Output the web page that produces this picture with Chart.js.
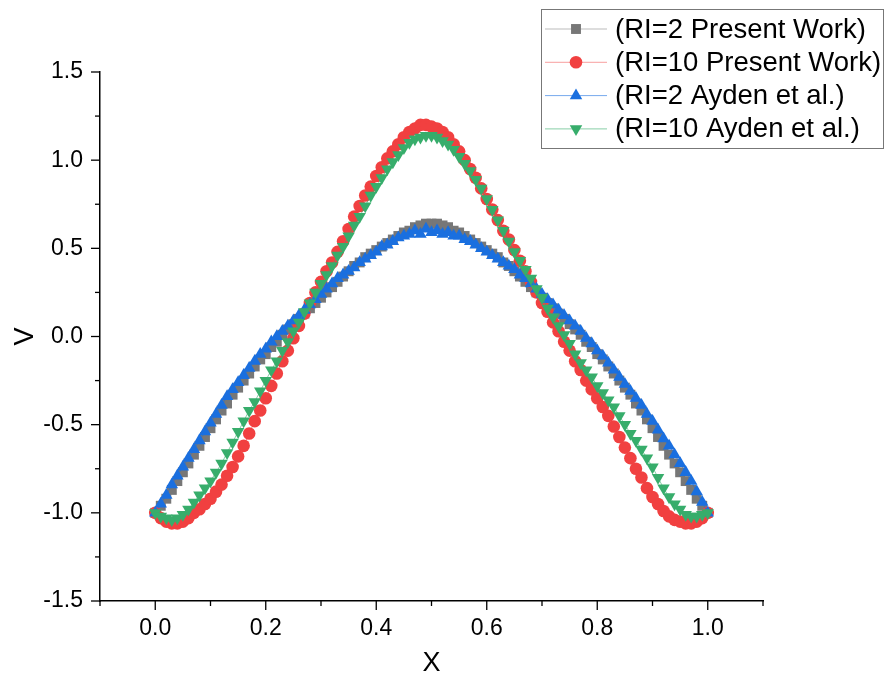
<!DOCTYPE html>
<html>
<head>
<meta charset="utf-8">
<title>V vs X</title>
<script src="https://cdn.jsdelivr.net/npm/chart.js@4.4.1/dist/chart.umd.min.js"></script>
<style>
  html, body { margin: 0; padding: 0; background: #fff; }
  #wrap { width: 891px; height: 682px; }
</style>
</head>
<body>
<div id="wrap"><canvas id="vChart" width="891" height="682"></canvas></div>
<script>
// x positions of the points (same for every series)
const xValues = [
  0.00, 0.01, 0.02, 0.03, 0.04, 0.05, 0.06, 0.07, 0.08, 0.09,
  0.10, 0.11, 0.12, 0.13, 0.14, 0.15, 0.16, 0.17, 0.18, 0.19,
  0.20, 0.21, 0.22, 0.23, 0.24, 0.25, 0.26, 0.27, 0.28, 0.29,
  0.30, 0.31, 0.32, 0.33, 0.34, 0.35, 0.36, 0.37, 0.38, 0.39,
  0.40, 0.41, 0.42, 0.43, 0.44, 0.45, 0.46, 0.47, 0.48, 0.49,
  0.50, 0.51, 0.52, 0.53, 0.54, 0.55, 0.56, 0.57, 0.58, 0.59,
  0.60, 0.61, 0.62, 0.63, 0.64, 0.65, 0.66, 0.67, 0.68, 0.69,
  0.70, 0.71, 0.72, 0.73, 0.74, 0.75, 0.76, 0.77, 0.78, 0.79,
  0.80, 0.81, 0.82, 0.83, 0.84, 0.85, 0.86, 0.87, 0.88, 0.89,
  0.90, 0.91, 0.92, 0.93, 0.94, 0.95, 0.96, 0.97, 0.98, 0.99,
  1.00
];

const ri2Present = [
  -1.00, -0.96, -0.92, -0.87, -0.82, -0.77, -0.72, -0.67, -0.62, -0.57,
  -0.52, -0.47, -0.42, -0.38, -0.33, -0.29, -0.25, -0.21, -0.17, -0.13,
  -0.10, -0.06, -0.03, 0.01, 0.04, 0.07, 0.10, 0.13, 0.16, 0.19,
  0.22, 0.25, 0.28, 0.31, 0.34, 0.37, 0.40, 0.42, 0.45, 0.47,
  0.49, 0.51, 0.53, 0.55, 0.57, 0.59, 0.60, 0.62, 0.63, 0.64,
  0.64, 0.64, 0.63, 0.62, 0.60, 0.59, 0.57, 0.55, 0.53, 0.51,
  0.49, 0.47, 0.45, 0.42, 0.40, 0.37, 0.34, 0.31, 0.28, 0.25,
  0.22, 0.19, 0.16, 0.13, 0.10, 0.07, 0.04, 0.01, -0.03, -0.06,
  -0.10, -0.13, -0.17, -0.21, -0.25, -0.29, -0.33, -0.38, -0.42, -0.47,
  -0.52, -0.57, -0.62, -0.67, -0.72, -0.77, -0.82, -0.87, -0.92, -0.96,
  -1.00
];

const ri10Present = [
  -1.00, -1.03, -1.05, -1.06, -1.06, -1.05, -1.03, -1.00, -0.98, -0.95,
  -0.92, -0.88, -0.84, -0.79, -0.74, -0.68, -0.62, -0.55, -0.48, -0.42,
  -0.35, -0.28, -0.21, -0.14, -0.08, -0.01, 0.06, 0.13, 0.19, 0.25,
  0.31, 0.37, 0.42, 0.48, 0.54, 0.61, 0.68, 0.74, 0.80, 0.85,
  0.91, 0.96, 1.01, 1.05, 1.09, 1.13, 1.16, 1.18, 1.20, 1.20,
  1.19, 1.18, 1.16, 1.13, 1.09, 1.05, 1.00, 0.95, 0.90, 0.84,
  0.78, 0.72, 0.66, 0.60, 0.55, 0.49, 0.43, 0.37, 0.31, 0.25,
  0.19, 0.14, 0.08, 0.03, -0.03, -0.08, -0.14, -0.19, -0.25, -0.30,
  -0.35, -0.40, -0.45, -0.51, -0.57, -0.63, -0.69, -0.75, -0.80, -0.86,
  -0.91, -0.95, -0.99, -1.02, -1.04, -1.05, -1.06, -1.06, -1.05, -1.03,
  -1.00
];

const ri2Ayden = [
  -1.00, -0.95, -0.90, -0.84, -0.79, -0.74, -0.69, -0.64, -0.59, -0.54,
  -0.49, -0.44, -0.39, -0.34, -0.30, -0.26, -0.22, -0.18, -0.14, -0.10,
  -0.07, -0.03, 0.00, 0.03, 0.06, 0.09, 0.12, 0.15, 0.18, 0.21,
  0.24, 0.27, 0.30, 0.33, 0.35, 0.37, 0.39, 0.42, 0.44, 0.46,
  0.48, 0.51, 0.52, 0.54, 0.56, 0.57, 0.58, 0.60, 0.58, 0.61,
  0.59, 0.60, 0.58, 0.59, 0.57, 0.57, 0.55, 0.54, 0.52, 0.50,
  0.48, 0.46, 0.44, 0.42, 0.40, 0.38, 0.35, 0.33, 0.30, 0.27,
  0.24, 0.21, 0.18, 0.15, 0.12, 0.09, 0.06, 0.03, -0.01, -0.04,
  -0.08, -0.11, -0.15, -0.19, -0.23, -0.27, -0.31, -0.35, -0.39, -0.44,
  -0.48, -0.53, -0.58, -0.62, -0.67, -0.72, -0.77, -0.82, -0.88, -0.94,
  -1.00
];

const ri10Ayden = [
  -1.00, -1.02, -1.03, -1.04, -1.03, -1.01, -0.98, -0.94, -0.90, -0.86,
  -0.82, -0.77, -0.72, -0.66, -0.60, -0.54, -0.48, -0.42, -0.37, -0.31,
  -0.25, -0.19, -0.14, -0.08, -0.03, 0.03, 0.08, 0.14, 0.19, 0.25,
  0.30, 0.35, 0.40, 0.46, 0.51, 0.57, 0.63, 0.68, 0.74, 0.80,
  0.85, 0.90, 0.95, 0.99, 1.03, 1.07, 1.10, 1.12, 1.13, 1.14,
  1.14, 1.13, 1.11, 1.09, 1.06, 1.02, 0.98, 0.94, 0.89, 0.84,
  0.78, 0.72, 0.66, 0.60, 0.54, 0.48, 0.43, 0.38, 0.33, 0.27,
  0.22, 0.16, 0.11, 0.06, 0.01, -0.04, -0.10, -0.15, -0.19, -0.23,
  -0.28, -0.32, -0.36, -0.40, -0.45, -0.50, -0.55, -0.59, -0.64, -0.69,
  -0.74, -0.80, -0.86, -0.91, -0.95, -0.98, -1.01, -1.02, -1.02, -1.01,
  -1.00
];

const seriesLabels = ['(RI=2 Present Work)', '(RI=10 Present Work)', '(RI=2 Ayden et al.)', '(RI=10 Ayden et al.)'];
const xTickLabels = ['0.0', '0.2', '0.4', '0.6', '0.8', '1.0'];
const yTickLabels = ['-1.5', '-1.0', '-0.5', '0.0', '0.5', '1.0', '1.5'];

const FONT = 'Arial, "Liberation Sans", sans-serif';

function toPoints(ys) {
    return xValues.map((x, i) => ({ x: x, y: ys[i] }));
}

function makeSet(label, ys, color, lineColor, style, radius, rotation, order) {
    return {
        label: label,
        data: toPoints(ys),
        showLine: true,
        borderColor: lineColor,
        borderWidth: 1,
        pointStyle: style,
        pointRadius: radius,
        pointRotation: rotation,
        pointBackgroundColor: color,
        pointBorderColor: color,
        pointBorderWidth: 0,
        order: order
    };
}

// minor + major tick marks, drawn outward from the two axis lines
const tickMarks = {
    id: 'tickMarks',
    afterDraw(chart) {
        const ctx = chart.ctx;
        const xs = chart.scales.x;
        const ys = chart.scales.y;
        ctx.save();
        ctx.strokeStyle = '#000';
        ctx.lineWidth = 1.3;
        xs.ticks.forEach(t => {
            const major = xTickLabels.includes(t.value.toFixed(1));
            const px = xs.getPixelForValue(t.value);
            ctx.beginPath();
            ctx.moveTo(px, xs.top);
            ctx.lineTo(px, xs.top + (major ? 9 : 5));
            ctx.stroke();
        });
        ys.ticks.forEach(t => {
            const major = Math.abs(t.value * 2 - Math.round(t.value * 2)) < 1e-6;
            const py = ys.getPixelForValue(t.value);
            ctx.beginPath();
            ctx.moveTo(ys.right, py);
            ctx.lineTo(ys.right - (major ? 9 : 5), py);
            ctx.stroke();
        });
        ctx.restore();
    }
};

// Origin style legend box: line + symbol + text
const boxLegend = {
    id: 'boxLegend',
    afterDraw(chart) {
        const ctx = chart.ctx;
        ctx.save();
        ctx.fillStyle = '#fff';
        ctx.fillRect(541.5, 9.5, 342, 139);
        ctx.strokeStyle = '#777';
        ctx.lineWidth = 1;
        ctx.strokeRect(541.5, 9.5, 342, 139);
        chart.data.datasets.forEach((ds, i) => {
            const y = 29 + i * 33.3;
            ctx.strokeStyle = ds.borderColor;
            ctx.lineWidth = 1;
            ctx.beginPath();
            ctx.moveTo(545, y);
            ctx.lineTo(607, y);
            ctx.stroke();
            ctx.fillStyle = ds.pointBackgroundColor;
            Chart.helpers.drawPoint(ctx, {
                pointStyle: ds.pointStyle,
                rotation: ds.pointRotation,
                radius: ds.pointRadius,
                borderWidth: 0
            }, 576, y);
            ctx.fillStyle = '#000';
            ctx.font = '27.5px ' + FONT;
            ctx.textBaseline = 'middle';
            ctx.textAlign = 'left';
            ctx.fillText(ds.label, 615, y + 1);
        });
        ctx.restore();
    }
};

const vChart = new Chart(document.getElementById('vChart').getContext('2d'), {
    type: 'scatter',
    data: {
        datasets: [
            makeSet(seriesLabels[0], ri2Present, '#777777', 'rgba(119,119,119,0.5)', 'rect', 7, 0, 4),
            makeSet(seriesLabels[1], ri10Present, '#F14040', 'rgba(241,64,64,0.5)', 'circle', 6.3, 0, 3),
            makeSet(seriesLabels[2], ri2Ayden, '#1A6FDF', 'rgba(26,111,223,0.6)', 'triangle', 7.2, 0, 2),
            makeSet(seriesLabels[3], ri10Ayden, '#37AD6B', 'rgba(55,173,107,0.6)', 'triangle', 7.2, 180, 1)
        ]
    },
    options: {
        responsive: false,
        animation: false,
        events: [],
        layout: { padding: { top: 72, right: 128, left: 0, bottom: 0 } },
        plugins: {
            legend: { display: false },
            tooltip: { enabled: false }
        },
        scales: {
            x: {
                type: 'linear',
                min: -0.1,
                max: 1.1,
                afterFit(scale) { scale.height = 81; },
                border: { display: true, color: '#000', width: 1.5 },
                grid: { display: true, drawOnChartArea: false, drawTicks: true, tickLength: 9, tickColor: 'rgba(0,0,0,0)' },
                ticks: {
                    stepSize: 0.1,
                    autoSkip: false,
                    maxRotation: 0,
                    padding: 5,
                    color: '#000',
                    font: { family: FONT, size: 23 },
                    callback: v => {
                        const s = v.toFixed(1);
                        return xTickLabels.includes(s) ? s : '';
                    }
                },
                title: { display: true, text: 'X', color: '#000', font: { family: FONT, size: 27 }, padding: { top: 0, bottom: 2 } }
            },
            y: {
                type: 'linear',
                min: -1.5,
                max: 1.5,
                afterFit(scale) { scale.width = 100; },
                border: { display: true, color: '#000', width: 1.5 },
                grid: { display: true, drawOnChartArea: false, drawTicks: true, tickLength: 9, tickColor: 'rgba(0,0,0,0)' },
                ticks: {
                    stepSize: 0.25,
                    autoSkip: false,
                    padding: 8,
                    color: '#000',
                    font: { family: FONT, size: 23 },
                    callback: v => {
                        const k = Math.round(v * 4);
                        if (k % 2 !== 0) return '';
                        return (k / 4).toFixed(1);
                    }
                },
                title: { display: true, text: 'V', color: '#000', font: { family: FONT, size: 27 }, padding: { top: 9, bottom: 0 } }
            }
        }
    },
    plugins: [tickMarks, boxLegend]
});
</script>
</body>
</html>
